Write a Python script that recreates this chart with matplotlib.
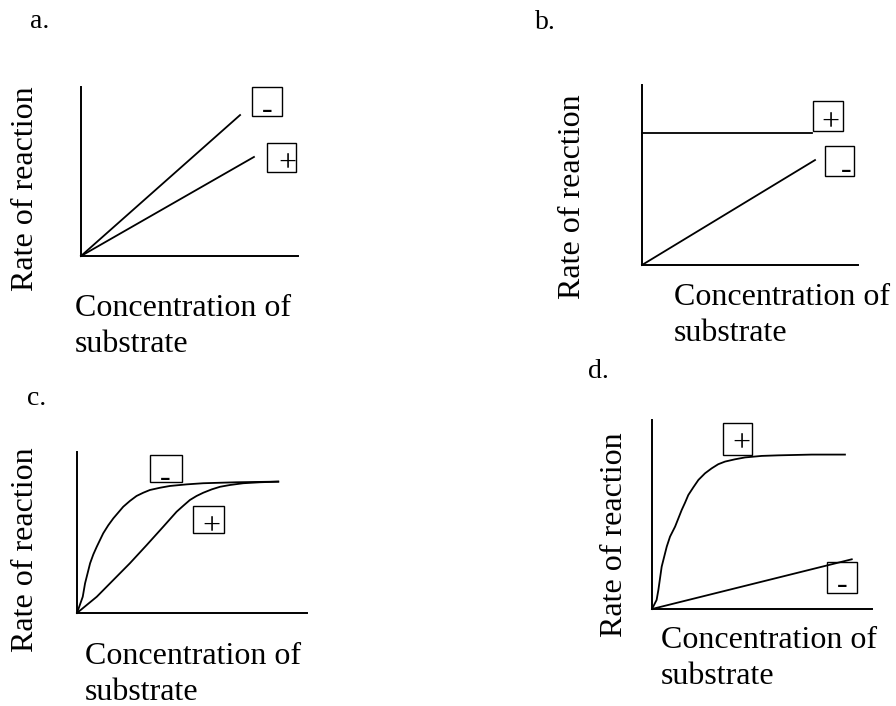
import matplotlib
matplotlib.use("Agg")
import matplotlib.pyplot as plt
from matplotlib.patches import Rectangle

W, H = 896, 706

# values in units of axis length (0-10 on both axes)
a_minus_x = [0, 7.33]
a_minus_y = [0, 8.34]
a_plus_x = [0, 7.97]
a_plus_y = [0, 5.86]

b_plus_x = [0, 7.87]
b_plus_y = [7.33, 7.33]
b_minus_x = [0, 8.01]
b_minus_y = [0, 5.83]

c_minus_x = [0, 0.25, 0.35, 0.57, 0.71, 0.86, 1.14, 1.36, 1.58, 2.01, 2.30, 2.59, 2.88,
             3.17, 3.61, 4.04, 4.77, 5.49, 6.94, 8.75]
c_minus_y = [0, 1.01, 1.84, 3.09, 3.64, 4.12, 4.95, 5.45, 5.88, 6.60, 6.96, 7.27, 7.47,
             7.64, 7.78, 7.89, 7.99, 8.06, 8.12, 8.16]
c_plus_x = [0, 0.86, 1.58, 2.30, 3.03, 3.75, 4.33, 4.62, 4.91, 5.20, 5.49, 5.86, 6.22,
            6.65, 7.23, 7.96, 8.75]
c_plus_y = [0, 1.01, 2.05, 3.09, 4.22, 5.36, 6.29, 6.66, 7.02, 7.27, 7.47, 7.68, 7.84,
            7.95, 8.06, 8.12, 8.16]

d_plus_x = [0, 0.21, 0.29, 0.44, 0.67, 0.82, 1.05, 1.20, 1.35, 1.50, 1.65, 1.88, 2.11,
            2.41, 2.71, 3.01, 3.32, 3.77, 4.23, 4.99, 5.74, 7.26, 8.77]
d_plus_y = [0, 0.48, 1.01, 2.24, 3.30, 3.83, 4.36, 4.80, 5.24, 5.62, 6.03, 6.44, 6.83,
            7.18, 7.44, 7.66, 7.80, 7.92, 8.02, 8.10, 8.13, 8.17, 8.17]
d_minus_x = [0, 9.08]
d_minus_y = [0, 2.63]

FONT = "Liberation Serif"
FS = 23

fig = plt.figure(figsize=(W / 100, H / 100), dpi=100)


def fx(x):
    return x / W


def fy(y):
    return 1 - y / H


def make_axes(x0, x1, ytop, ybot):
    ax = fig.add_axes([fx(x0), fy(ybot), (x1 - x0) / W, (ybot - ytop) / H])
    ax.set_xlim(0, 10)
    ax.set_ylim(0, 10)
    ax.set_xticks([])
    ax.set_yticks([])
    ax.patch.set_alpha(0)
    for s in ["top", "right"]:
        ax.spines[s].set_visible(False)
    for s in ["left", "bottom"]:
        ax.spines[s].set_linewidth(1.4)
    return ax


def labels(letter, lx, ly, ybase_x, ycen, cx, cy):
    fig.text(fx(lx), fy(ly), letter, family=FONT, fontsize=20, va="baseline")
    fig.text(fx(ybase_x), fy(ycen), "Rate of reaction", family=FONT, fontsize=FS,
             rotation=90, rotation_mode="anchor", ha="center", va="baseline")
    fig.text(fx(cx), fy(cy), "Concentration of", family=FONT, fontsize=FS, va="baseline")
    fig.text(fx(cx), fy(cy + 36), "substrate", family=FONT, fontsize=FS, va="baseline")


def sign_box(x0, y0, x1, y1, sign, sx, sy):
    fig.patches.append(Rectangle((fx(x0), fy(y1)), (x1 - x0) / W, (y1 - y0) / H,
                                 transform=fig.transFigure, fill=False,
                                 edgecolor="black", linewidth=1.0))
    fig.text(fx(sx), fy(sy + 8), sign, family=FONT, fontsize=FS,
             ha="center", va="baseline")


style = dict(color="black", lw=1.3, clip_on=False, solid_joinstyle="round")

# a
ax = make_axes(81, 298, 87, 256)
ax.plot(a_minus_x, a_minus_y, **style)
ax.plot(a_plus_x, a_plus_y, **style)
labels("a.", 30, 28, 33, 189, 75, 316)
sign_box(252, 87, 282, 116, "-", 267, 110)
sign_box(267, 143, 296, 172, "+", 287, 163.5)

# b
ax = make_axes(642, 858, 85, 265)
ax.plot(b_plus_x, b_plus_y, **style)
ax.plot(b_minus_x, b_minus_y, **style)
labels("b.", 535, 29, 580, 197, 674, 305)
sign_box(813, 101, 843, 131, "+", 830, 122)
sign_box(825, 146, 854, 176, "-", 846.5, 170)

# c
ax = make_axes(77, 307, 452, 613)
ax.plot(c_minus_x, c_minus_y, **style)
ax.plot(c_plus_x, c_plus_y, **style)
labels("c.", 27, 405, 33, 550, 85, 664)
sign_box(150, 455, 182, 482, "-", 165, 478)
sign_box(193, 506, 224, 533, "+", 211.5, 526.5)

# d
ax = make_axes(652, 872, 420, 609)
ax.plot(d_plus_x, d_plus_y, **style)
ax.plot(d_minus_x, d_minus_y, **style)
labels("d.", 588, 378, 622, 535, 661, 648)
sign_box(723, 423, 752, 455, "+", 741, 443.5)
sign_box(827, 562, 857, 593, "-", 842, 585)

fig.savefig("out.png", dpi=100)
